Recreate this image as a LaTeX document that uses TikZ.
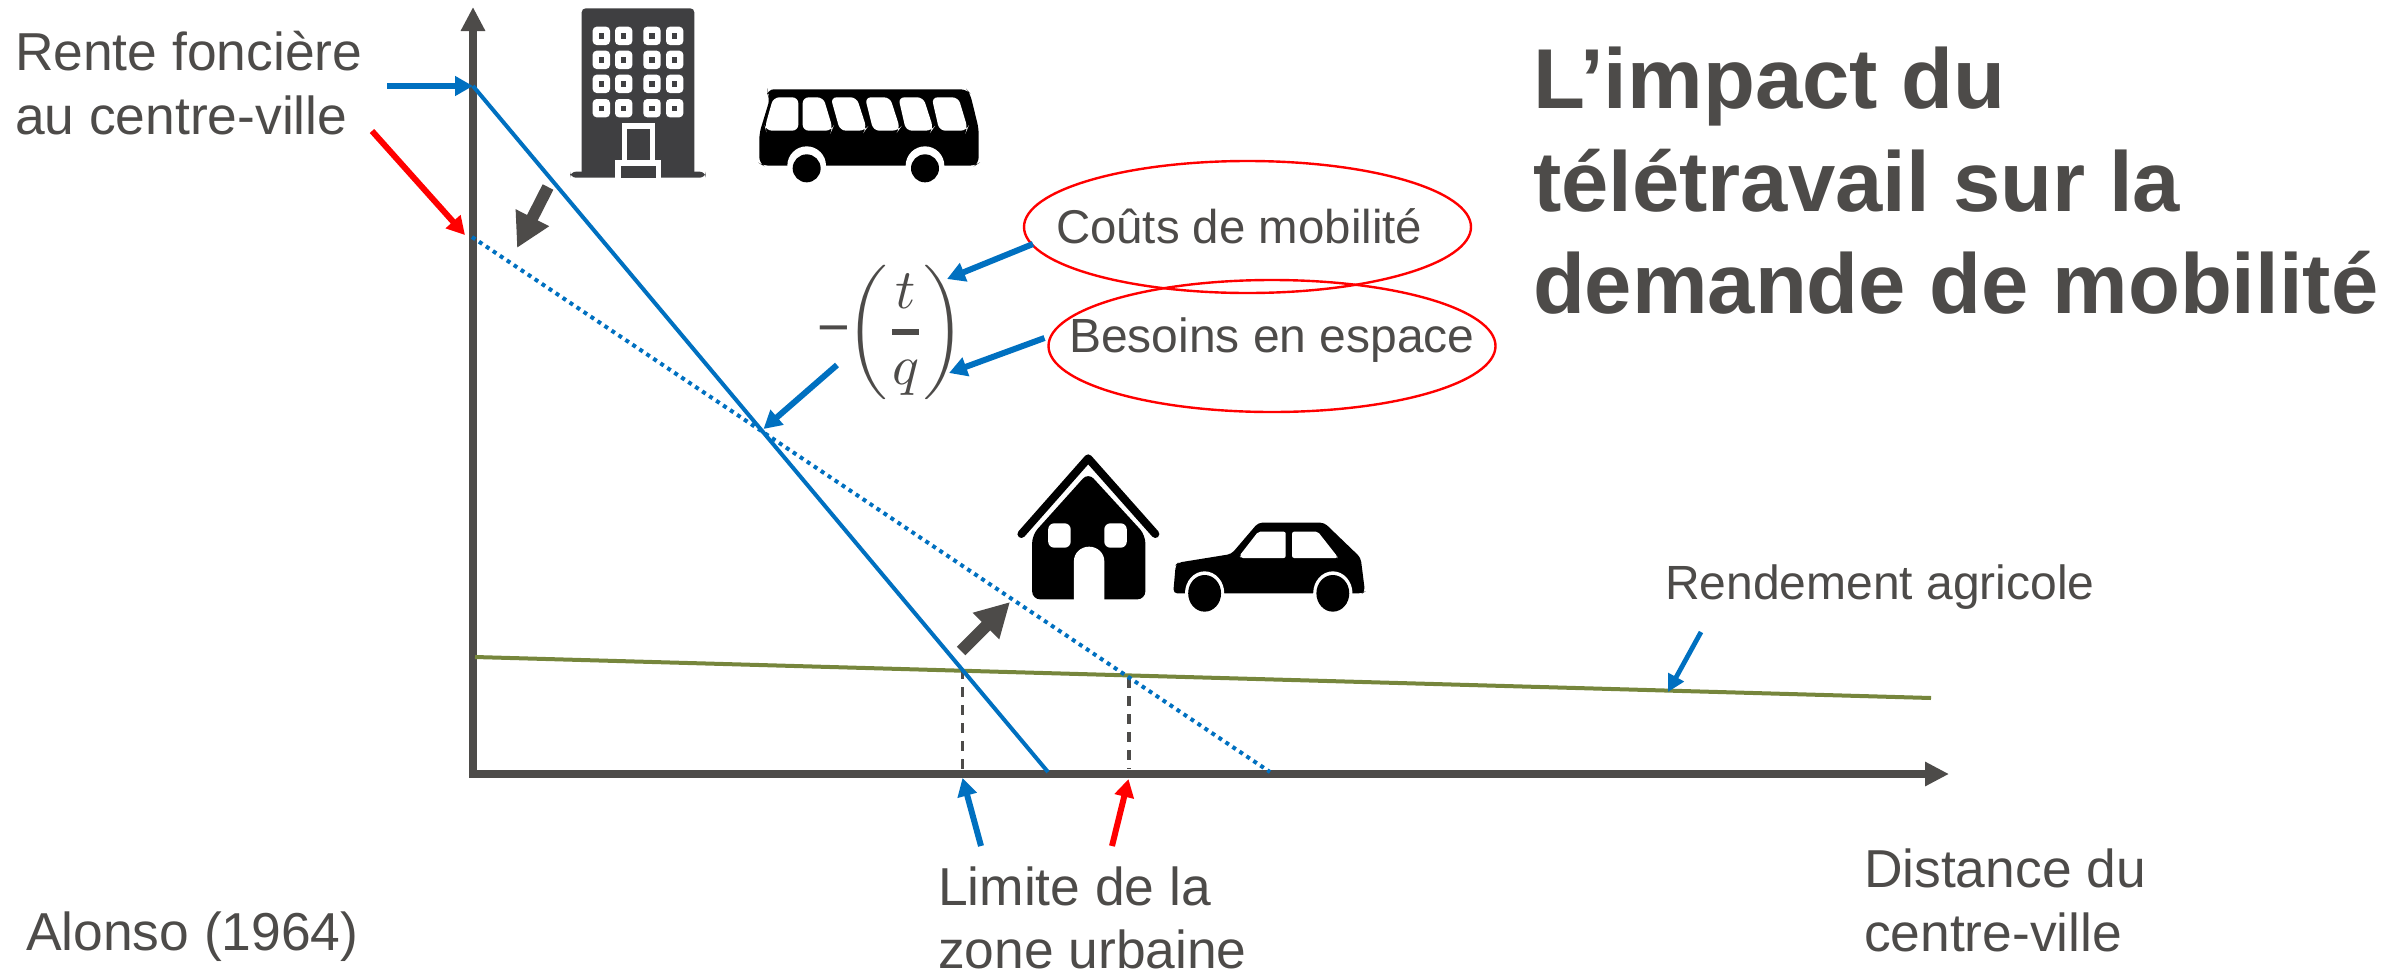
\documentclass[tikz,border=0pt]{standalone}
\usepackage{fontspec}
\usepackage{amsmath}
\setmainfont{Liberation Sans}
\usetikzlibrary{arrows.meta,calc,shapes.geometric}
\definecolor{txt}{HTML}{4D4B49}
\definecolor{axc}{HTML}{4D4B49}
\definecolor{bl}{HTML}{0070C0}
\definecolor{grn}{HTML}{76863C}
\definecolor{bld}{HTML}{3F3F41}
\tikzset{
  lbl/.style={text=txt,font=\fontsize{26.7}{30}\selectfont,anchor=base west,inner sep=0pt,outer sep=0pt},
  small/.style={lbl,font=\fontsize{24}{28}\selectfont},
  titlet/.style={lbl,font=\fontsize{42.5}{50}\selectfont\bfseries},
  axis/.style={draw=axc,line width=4pt,-{Triangle[length=12pt,width=11.5pt]}},
  bluefine/.style={draw=bl,line width=2pt},
  bluedot/.style={draw=bl,line width=2pt,dash pattern=on 2pt off 2.2pt},
  guide/.style={draw=axc,line width=1.6pt,dash pattern=on 5pt off 4pt},
  parr/.style={draw=bl,line width=3pt,-{Triangle[length=9pt,width=9.5pt]}},
  rarr/.style={parr,draw=red},
  garr/.style={draw=axc,line width=6pt,-{Triangle[length=17pt,width=17.5pt]}},
  ell/.style={draw=red,line width=1.2pt,ellipse,inner sep=0pt,minimum width=223.5pt,minimum height=66pt},
  icon/.style={fill=black,draw=none},
}
\begin{document}
\begin{tikzpicture}[x=0.5pt,y=-0.5pt]
\useasboundingbox (0,0) rectangle (2404,975);
% named points
\coordinate (O) at (473,774);
\coordinate (Ytip) at (473,7);
\coordinate (Xtip) at (1949,774);
\coordinate (A1) at (473,86);
\coordinate (A2) at (472,237);
\coordinate (B1) at (1048,772);
\coordinate (B2) at (1270,772);
\coordinate (G1) at (475,657);
\coordinate (G2) at (1931,698);
\coordinate (Lim1) at (962.5,669);
\coordinate (Lim1b) at (962.5,773);
\coordinate (Lim2) at (1129,678);
\coordinate (Lim2b) at (1129,769);
\coordinate (X) at (763.5,429);
% axes
\draw[axis] (O) -- (Ytip);
\draw[axis] ($(O)+(-4,0)$) -- (Xtip);
% curves
\draw[grn,line width=2pt] (G1) -- (G2);
\draw[guide] (Lim1) -- (Lim1b);
\draw[guide] (Lim2) -- (Lim2b);
\draw[bluefine] (A1) -- (B1);
\draw[bluedot] (A2) -- (B2);
% building
\begin{scope}[shift={(540,0)},scale=1/3]
\fill[bld,rounded corners=2pt] (125,25) rectangle (463,530);
\fill[bld,rounded corners=3pt] (90,515) rectangle (497,533);
\foreach \cx in {158,225,310,378}{\foreach \cy in {80,152,224,297}{
  \fill[white,rounded corners=2pt] (\cx,\cy) rectangle ++(52,55);
  \fill[bld] (\cx+18,\cy+20) rectangle ++(16,16);
}}
\fill[white] (245,370) rectangle (345,490);
\fill[bld] (260,388) rectangle (330,480);
\fill[white] (225,480) rectangle (362,533);
\fill[bld] (243,498) rectangle (347,533);
\end{scope}
% bus
\begin{scope}[shift={(540,0)},scale=1/3]
\fill[icon,rounded corners=3pt] (683,268)--(1280,268)--(1290,280)--(1316,385)--(1316,490)--(1305,497)--(670,497)--(658,490)--(658,400)--(690,295)--(683,282)--cycle;
\fill[white,rounded corners=3pt] (700,292)--(775,292)--(775,392)--(678,392)--(675,380)--cycle;
\fill[white,rounded corners=3pt] (788,292)--(850,292)--(878,385)--(875,392)--(788,392)--cycle;
\fill[white,rounded corners=3pt] (872,292)--(950,292)--(980,385)--(975,392)--(900,392)--cycle;
\fill[white,rounded corners=3pt] (975,292)--(1050,292)--(1080,385)--(1075,392)--(1000,392)--cycle;
\fill[white,rounded corners=3pt] (1075,292)--(1150,292)--(1180,385)--(1175,392)--(1098,392)--cycle;
\fill[white,rounded corners=3pt] (1175,292)--(1255,292)--(1283,385)--(1280,392)--(1198,392)--cycle;
\foreach \wx in {800,1155}{
  \fill[white] (\wx,497) circle (58);
  \fill[black] (\wx,505) circle (42);
}
\end{scope}
% house and car
\begin{scope}[shift={(900,430)},xscale=1/2.8,yscale=1/3]
\fill[icon,rounded corners=4pt] (370,315)--(527,128)--(687,315)--(687,508)--(370,508)--cycle;
\draw[black,line width=4pt,line cap=round,line join=round] (340,312)--(527,85)--(715,312);
\fill[white,rounded corners=3pt] (415,280) rectangle (478,353);
\fill[white,rounded corners=3pt] (572,280) rectangle (635,353);
\fill[white] (487,510)--(487,393) arc[start angle=180,end angle=360,x radius=42.5,y radius=43]--(572,510)--cycle;
\fill[icon,rounded corners=2pt] (765,490)--(772,405)--(778,398)--(928,372)--(1003,278)--(1188,278)--(1290,383)--(1302,485)--(1295,490)--cycle;
\fill[white,rounded corners=1pt] (950,378)--(1003,305)--(1080,305)--(1080,384)--(955,384)--cycle;
\fill[white,rounded corners=1pt] (1098,305)--(1170,305)--(1225,380)--(1225,384)--(1098,384)--cycle;
\foreach \wx in {853,1212}{
  \fill[white] (\wx,490) ellipse [x radius=55,y radius=66];
  \fill[black] (\wx,490) ellipse [x radius=46,y radius=55];
}
\end{scope}
% ellipses
\node[ell] (ec) at (1247.5,227) {};
\node[ell] (eb) at (1272,346) {};
% text
\node[lbl] (rente1) at (15,70) {Rente foncière};
\node[lbl] (rente2) at (15,134) {au centre-ville};
\node[small,font=\fontsize{23.7}{28}\selectfont] (couts) at (1056,243) {Coûts de mobilité};
\node[small] (besoins) at (1069,352) {Besoins en espace};
\node[small] (rend) at (1665,599) {Rendement agricole};
\node[lbl] (lim1) at (938,905) {Limite de la};
\node[lbl] (lim2) at (938,968) {zone urbaine};
\node[lbl] (dist1) at (1864,887) {Distance du};
\node[lbl] (dist2) at (1864,951) {centre-ville};
\node[lbl] (alonso) at (26,950) {Alonso (1964)};
\node[titlet] (t1) at (1533,108) {L’impact du};
\node[titlet] (t2) at (1533,211) {télétravail sur la};
\node[titlet] (t3) at (1533,313) {demande de mobilité};
% formula
\node[text=txt,inner sep=0pt] (formula) at (891,332) {\scalebox{2.8}{$\text{−}\mkern-1mu\biggl(\mkern-0.8mu\genfrac{}{}{1pt}{0}{t}{q}\mkern-0.8mu\biggr)$}};
% arrows
\coordinate (a1s) at (387,86);
\coordinate (a2s) at (372,131);
\coordinate (a2e) at (465,235);
\coordinate (a3s) at (837,365);
\coordinate (a4s) at (1033,244);
\coordinate (a4e) at (947,279);
\coordinate (a5s) at (1044.5,338);
\coordinate (a5e) at (949,373);
\coordinate (a6s) at (981,846);
\coordinate (a6e) at (962.5,778);
\coordinate (a7s) at (1112,846);
\coordinate (a7e) at (1128.5,779);
\coordinate (a8s) at (1701,632);
\coordinate (a8e) at (1668,692);
\coordinate (g1s) at (548,187);
\coordinate (g1e) at (517,248);
\coordinate (g2s) at (961,651);
\coordinate (g2e) at (1010,602);
\draw[parr] (a1s) -- (A1);
\draw[rarr] (a2s) -- (a2e);
\draw[parr] (a3s) -- (X);
\draw[parr] (a4s) -- (a4e);
\draw[parr] (a5s) -- (a5e);
\draw[parr] (a6s) -- (a6e);
\draw[rarr] (a7s) -- (a7e);
\draw[parr,line width=2.4pt,-{Triangle[length=8.5pt,width=8.5pt]}] (a8s) -- (a8e);
\draw[garr] (g1s) -- (g1e);
\draw[garr] (g2s) -- (g2e);
\end{tikzpicture}
\end{document}
